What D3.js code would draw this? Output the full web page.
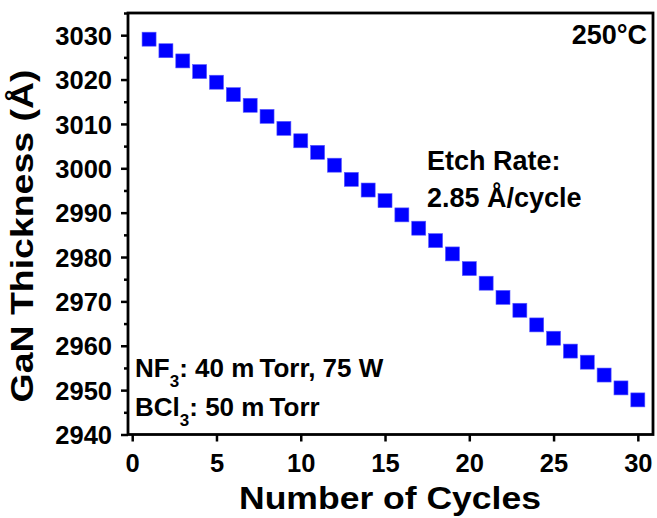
<!DOCTYPE html>
<html>
<head>
<meta charset="utf-8">
<script src="https://cdn.jsdelivr.net/npm/d3@7"></script>
<style>
  body { margin: 0; background: #fff; }
  svg { display: block; font-family: "Liberation Sans", Arial, sans-serif; font-weight: bold; }
</style>
</head>
<body>
<div id="chart"></div>
<script>
/* GaN thickness vs etch cycles */

const cycles = d3.range(1, 31);
const thickness = [
    3029.1, 3026.5, 3024.2, 3021.8, 3019.4, 3016.6, 3014.2, 3011.7, 3009.0, 3006.2,
    3003.6, 3000.7, 2997.5, 2995.1, 2992.7, 2989.5, 2986.5, 2983.7, 2980.7, 2977.4,
    2974.1, 2970.9, 2968.0, 2964.7, 2961.7, 2958.8, 2956.3, 2953.4, 2950.5, 2947.8
];
const xTicks = [0, 5, 10, 15, 20, 25, 30];
const yTicks = [2940, 2950, 2960, 2970, 2980, 2990, 3000, 3010, 3020, 3030];
const yMinor = [2945, 2955, 2965, 2975, 2985, 2995, 3005, 3015, 3025, 3035];

const data = cycles.map((c, i) => ({ cycle: c, thick: thickness[i] }));

const width = 657,
      height = 518,
      margin = ({ top: 13, right: 4, bottom: 83.5, left: 128 });

let svg = d3.select("#chart")
    .append("svg")
    .attr("width", width)
    .attr("height", height);

let x = d3.scaleLinear()
    .domain([-0.25, 30.9])
    .range([margin.left, width - margin.right]);

let y = d3.scaleLinear()
    .domain([2940, 3035])
    .range([height - margin.bottom, margin.top]);

// minor y ticks (no labels)
svg.append("g")
    .attr("transform", `translate(${margin.left},0)`)
    .call(d3.axisLeft(y).tickValues(yMinor).tickSize(4).tickFormat(""))
    .call(g => g.select(".domain").remove())
    .call(g => g.selectAll("line").attr("stroke-width", 2.5));

// major y axis
svg.append("g")
    .attr("transform", `translate(${margin.left},0)`)
    .call(d3.axisLeft(y).tickValues(yTicks).tickFormat(d3.format("d")).tickSizeOuter(0).tickSize(7))
    .call(g => g.select(".domain").remove())
    .call(g => g.selectAll("line").attr("stroke-width", 2.5))
    .call(g => g.selectAll("text")
        .attr("x", -16)
        .attr("dy", "0.36em")
        .attr("fill", "#000")
        .style("font-size", "25.5px")
        .style("font-family", "Liberation Sans, Arial, sans-serif")
        .style("font-weight", "bold"));

// x axis
svg.append("g")
    .attr("transform", `translate(0,${height - margin.bottom})`)
    .call(d3.axisBottom(x).tickValues(xTicks).tickFormat(d3.format("d")).tickSizeOuter(0).tickSize(7))
    .call(g => g.select(".domain").remove())
    .call(g => g.selectAll("line").attr("stroke-width", 2.5))
    .call(g => g.selectAll("text")
        .attr("y", 37)
        .attr("dy", null)
        .attr("fill", "#000")
        .style("font-size", "25.5px")
        .style("font-family", "Liberation Sans, Arial, sans-serif")
        .style("font-weight", "bold"));

// frame box
svg.append("rect")
    .attr("x", margin.left)
    .attr("y", margin.top)
    .attr("width", width - margin.right - margin.left)
    .attr("height", height - margin.bottom - margin.top)
    .attr("fill", "none")
    .attr("stroke", "#000")
    .attr("stroke-width", 2.8);

// square markers
const sz = 14;
svg.selectAll(".pt")
    .data(data)
    .join("rect")
    .attr("class", "pt")
    .attr("x", d => x(d.cycle) - sz / 2)
    .attr("y", d => y(d.thick) - sz / 2)
    .attr("width", sz)
    .attr("height", sz)
    .attr("fill", "#0000ff")
    .attr("stroke", "#5a5aff")
    .attr("stroke-width", 0.6);

// axis titles
svg.append("text")
    .attr("x", 390)
    .attr("y", 509)
    .attr("text-anchor", "middle")
    .attr("textLength", 302)
    .attr("lengthAdjust", "spacingAndGlyphs")
    .style("font-size", "32px")
    .text("Number of Cycles");

svg.append("text")
    .attr("transform", "translate(33,236) rotate(-90)")
    .attr("text-anchor", "middle")
    .attr("textLength", 333)
    .attr("lengthAdjust", "spacingAndGlyphs")
    .style("font-size", "32px")
    .text("GaN Thickness (Å)");

// annotations
svg.append("text")
    .attr("x", 647).attr("y", 44)
    .attr("text-anchor", "end")
    .style("font-size", "27px")
    .text("250°C");

svg.append("text")
    .attr("x", 427).attr("y", 170)
    .style("font-size", "27px")
    .text("Etch Rate:");

svg.append("text")
    .attr("x", 427).attr("y", 207)
    .style("font-size", "27px")
    .text("2.85 Å/cycle");

let nf = svg.append("text")
    .attr("x", 135).attr("y", 377)
    .style("font-size", "26px");
nf.append("tspan").text("NF");
nf.append("tspan").attr("dy", 10).style("font-size", "17px").text("3");
nf.append("tspan").attr("dy", -10).text(": 40 m\u2009Torr, 75 W");

let bc = svg.append("text")
    .attr("x", 135).attr("y", 416)
    .style("font-size", "26px");
bc.append("tspan").text("BCl");
bc.append("tspan").attr("dy", 10).style("font-size", "17px").text("3");
bc.append("tspan").attr("dy", -10).text(": 50 m\u2009Torr");
</script>
</body>
</html>
